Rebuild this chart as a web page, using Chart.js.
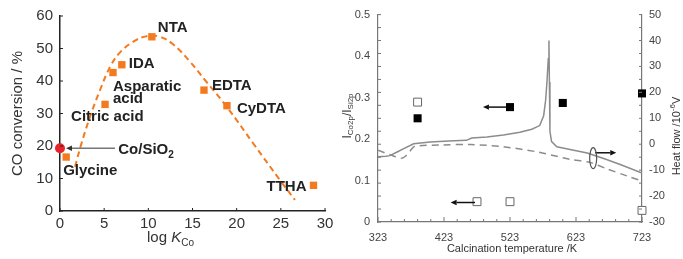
<!DOCTYPE html>
<html>
<head>
<meta charset="utf-8">
<script src="https://cdn.jsdelivr.net/npm/chart.js@4.4.1/dist/chart.umd.min.js"></script>
<style>
  body { margin: 0; background: #fff; }
  #wrap { position: relative; width: 683px; height: 259px; }
  #left { position: absolute; left: 0; top: 0; }
  #right { position: absolute; left: 340px; top: 0; }
</style>
</head>
<body>
<div id="wrap">
  <canvas id="left" width="340" height="259"></canvas>
  <canvas id="right" width="343" height="259"></canvas>
</div>
<script>
// ---- Left panel data: CO conversion vs log K(Co)
const ligands = ['Glycine', 'Citric acid', 'Asparatic acid', 'IDA', 'NTA', 'EDTA', 'CyDTA', 'TTHA'];
const logK = [0.7, 5.1, 6.0, 7.0, 10.4, 16.3, 18.9, 28.7];
const conversion = [16.6, 32.8, 42.6, 45.0, 53.6, 37.2, 32.4, 7.9];
const refLogK = [0];
const refConversion = [19.3];
const trendLogK = [1.7, 2.4, 3.4, 4.5, 5.7, 6.8, 8.3, 9.8, 11.3, 12.8, 14.7, 16.5, 18.9, 21.9, 24.9, 26.6];
const trendConversion = [13.6, 20.5, 29.0, 37.0, 44.5, 48.8, 52.1, 53.8, 53.6, 51.3, 46.0, 40.0, 32.0, 20.7, 9.5, 3.4];
const logKTicks = [0, 5, 10, 15, 20, 25, 30];
const convTicks = [0, 10, 20, 30, 40, 50, 60];

// ---- Right panel data: XPS ratio and DTA heat flow vs calcination temperature
const filledTemp = [383, 523, 603, 723];
const filledRatio = [0.25, 0.277, 0.287, 0.31];
const openTemp = [383, 473, 523, 723];
const openRatio = [0.289, 0.049, 0.049, 0.028];
const solidTemp = [323, 335, 341, 352, 362, 377, 402, 430, 457, 465, 488, 513, 538, 556, 568, 574, 577, 579, 581, 582, 582.7, 583.5, 586, 594, 614, 640, 665, 690, 723];
const solidHeat = [-4.8, -4.6, -4.4, -3.0, -1.7, 0.2, 0.9, 1.2, 1.5, 2.4, 2.8, 3.6, 4.6, 5.8, 7.2, 11, 17, 24, 33, 40, 24, 5, 1, -1.0, -2.0, -3.4, -5.5, -7.8, -11.1];
const dashTemp = [323, 341, 359, 366, 372, 379, 420, 463, 513, 563, 614, 644, 670, 700, 723];
const dashHeat = [-2.3, -4.0, -5.4, -4.3, -2.5, -0.8, -0.3, -0.1, -1.0, -2.9, -5.8, -7.0, -9.5, -12.2, -14.2];
const tempTicks = [323, 423, 523, 623, 723];
const ratioTicks = [0, 0.1, 0.2, 0.3, 0.4, 0.5];
const heatTicks = [-30, -20, -10, 0, 10, 20, 30, 40, 50];

const ORANGE = '#f47a20';
const FONT = 'Liberation Sans, Arial, sans-serif';

function pts(xs, ys) {
    return xs.map((x, i) => ({ x: x, y: ys[i] }));
}

function setTicks(values) {
    return scale => { scale.ticks = values.map(v => ({ value: v })); };
}

// draw a line of text made of parts (with sub/superscripts), centred at x,y
function richText(ctx, parts, x, y, angle) {
    ctx.save();
    ctx.translate(x, y);
    ctx.rotate(angle || 0);
    let total = 0;
    parts.forEach(p => { ctx.font = p.font; total += ctx.measureText(p.t).width; });
    let cx = -total / 2;
    ctx.textBaseline = 'middle';
    ctx.textAlign = 'left';
    parts.forEach(p => {
        ctx.font = p.font;
        ctx.fillText(p.t, cx, p.dy || 0);
        cx += ctx.measureText(p.t).width;
    });
    ctx.restore();
}

function arrow(ctx, x1, y1, x2, y2, head) {
    const ang = Math.atan2(y2 - y1, x2 - x1);
    ctx.beginPath();
    ctx.moveTo(x1, y1);
    ctx.lineTo(x2 - Math.cos(ang) * head, y2 - Math.sin(ang) * head);
    ctx.stroke();
    ctx.beginPath();
    ctx.moveTo(x2, y2);
    ctx.lineTo(x2 - head * Math.cos(ang) + head * 0.45 * Math.sin(ang), y2 - head * Math.sin(ang) - head * 0.45 * Math.cos(ang));
    ctx.lineTo(x2 - head * Math.cos(ang) - head * 0.45 * Math.sin(ang), y2 - head * Math.sin(ang) + head * 0.45 * Math.cos(ang));
    ctx.closePath();
    ctx.fill();
}

// ---- Left chart decorations
const leftDeco = {
    id: 'leftDeco',
    afterDraw(chart) {
        const { ctx, chartArea: a, scales: { x, y } } = chart;
        ctx.save();
        // inner ticks
        ctx.strokeStyle = '#222';
        ctx.lineWidth = 1;
        ctx.beginPath();
        logKTicks.forEach(v => { const px = x.getPixelForValue(v); ctx.moveTo(px, a.bottom); ctx.lineTo(px, a.bottom - 3); });
        convTicks.forEach(v => { const py = y.getPixelForValue(v); ctx.moveTo(a.left, py); ctx.lineTo(a.left + 3, py); });
        ctx.stroke();

        // ligand labels
        const place = {
            'Glycine': [-3, 14, 'left'],
            'Citric acid': [-34, 12, 'left'],
            'Asparatic acid': [0, 14, 'left'],
            'IDA': [7, -1, 'left'],
            'NTA': [6, -9, 'left'],
            'EDTA': [8, -4, 'left'],
            'CyDTA': [10, 3, 'left'],
            'TTHA': [-7, 2, 'right']
        };
        ctx.fillStyle = '#222';
        ctx.font = 'bold 15px ' + FONT;
        ctx.textBaseline = 'middle';
        ligands.forEach((name, i) => {
            const px = x.getPixelForValue(logK[i]);
            const py = y.getPixelForValue(conversion[i]);
            const p = place[name];
            ctx.textAlign = p[2];
            if (name === 'Asparatic acid') {
                ctx.fillText('Asparatic', px + p[0], py + p[1]);
                ctx.fillText('acid', px + p[0], py + p[1] + 12);
            } else {
                ctx.fillText(name, px + p[0], py + p[1]);
            }
        });

        // Co/SiO2 reference label and arrow
        const rx = x.getPixelForValue(refLogK[0]);
        const ry = y.getPixelForValue(refConversion[0]);
        ctx.strokeStyle = '#777';
        ctx.fillStyle = '#333';
        ctx.lineWidth = 1.5;
        arrow(ctx, rx + 55, ry, rx + 6, ry, 6);
        ctx.fillStyle = '#222';
        richText(ctx, [
            { t: 'Co/SiO', font: 'bold 15px ' + FONT },
            { t: '2', font: 'bold 10px ' + FONT, dy: 5 }
        ], rx + 86, ry + 2);

        // axis titles
        ctx.fillStyle = '#333';
        richText(ctx, [{ t: 'CO conversion / %', font: '15px ' + FONT }], 18, (a.top + a.bottom) / 2, -Math.PI / 2);
        richText(ctx, [
            { t: 'log ', font: '15px ' + FONT },
            { t: 'K', font: 'italic 15px ' + FONT },
            { t: 'Co', font: '10px ' + FONT, dy: 5 }
        ], (a.left + a.right) / 2 - 22, 238);
        ctx.restore();
    }
};

new Chart(document.getElementById('left'), {
    type: 'scatter',
    data: {
        datasets: [
            {
                label: 'trend',
                data: pts(trendLogK, trendConversion),
                showLine: true,
                borderColor: ORANGE,
                borderWidth: 2,
                borderDash: [6, 4],
                tension: 0.4,
                pointRadius: 0,
                clip: false
            },
            {
                label: 'ligands',
                data: pts(logK, conversion),
                pointStyle: 'rect',
                pointRadius: 5.2,
                backgroundColor: ORANGE,
                borderColor: ORANGE,
                borderWidth: 0,
                clip: false
            },
            {
                label: 'Co/SiO2',
                data: pts(refLogK, refConversion),
                pointStyle: 'circle',
                pointRadius: 5,
                backgroundColor: '#e8232a',
                borderColor: '#e8232a',
                borderWidth: 0,
                clip: false
            }
        ]
    },
    options: {
        responsive: false,
        animation: false,
        events: [],
        layout: { padding: { top: 15, right: 15, left: 0, bottom: 0 } },
        plugins: { legend: { display: false }, tooltip: { enabled: false } },
        scales: {
            x: {
                type: 'linear', min: 0, max: 30,
                afterBuildTicks: setTicks(logKTicks),
                afterFit: s => { s.height = 48; },
                grid: { display: false, drawTicks: false },
                border: { display: true, color: '#222', width: 1.5 },
                ticks: { padding: 4, color: '#333', font: { family: FONT, size: 15 } }
            },
            y: {
                type: 'linear', min: 0, max: 60,
                afterBuildTicks: setTicks(convTicks),
                afterFit: s => { s.width = 60; },
                grid: { display: false, drawTicks: false },
                border: { display: true, color: '#222', width: 1.5 },
                ticks: { padding: 7, color: '#333', font: { family: FONT, size: 15 } }
            }
        }
    },
    plugins: [leftDeco]
});

// ---- Right chart decorations
const rightDeco = {
    id: 'rightDeco',
    afterDraw(chart) {
        const { ctx, chartArea: a, scales: { x, y, y2 } } = chart;
        ctx.save();
        ctx.strokeStyle = '#777';
        ctx.lineWidth = 1;
        ctx.beginPath();
        for (let t = 323; t <= 723; t += 20) {
            const px = x.getPixelForValue(t);
            const len = (t - 323) % 100 === 0 ? 5 : 3;
            ctx.moveTo(px, a.bottom); ctx.lineTo(px, a.bottom - len);
        }
        for (let h = -30; h <= 50; h += 5) {
            const py = y2.getPixelForValue(h);
            ctx.moveTo(a.left, py); ctx.lineTo(a.left + 3, py);
            ctx.moveTo(a.right, py); ctx.lineTo(a.right - 3, py);
        }
        ctx.stroke();

        // arrows pointing to the axes
        ctx.strokeStyle = '#111';
        ctx.fillStyle = '#111';
        ctx.lineWidth = 1.5;
        arrow(ctx, x.getPixelForValue(518), y.getPixelForValue(0.277), x.getPixelForValue(482), y.getPixelForValue(0.277), 6);
        arrow(ctx, x.getPixelForValue(470), y.getPixelForValue(0.047), x.getPixelForValue(433), y.getPixelForValue(0.047), 6);
        arrow(ctx, x.getPixelForValue(652), y2.getPixelForValue(-3.3), x.getPixelForValue(684), y2.getPixelForValue(-3.3), 6);
        // ellipse around the DTA curves
        ctx.strokeStyle = '#555';
        ctx.lineWidth = 1.2;
        ctx.beginPath();
        ctx.ellipse(x.getPixelForValue(649), y2.getPixelForValue(-5.4), 3.5, 10.5, 0, 0, Math.PI * 2);
        ctx.stroke();

        // axis titles
        ctx.fillStyle = '#333';
        richText(ctx, [
            { t: 'I', font: '12px ' + FONT },
            { t: 'Co2p', font: '8px ' + FONT, dy: 3 },
            { t: '/I', font: '12px ' + FONT },
            { t: 'Si2p', font: '8px ' + FONT, dy: 3 }
        ], 8, 116, -Math.PI / 2);
        richText(ctx, [
            { t: 'Heat flow /10', font: '11px ' + FONT },
            { t: '-6', font: '8px ' + FONT, dy: -4 },
            { t: 'V', font: '11px ' + FONT }
        ], 337, 136, -Math.PI / 2);
        richText(ctx, [{ t: 'Calcination temperature /K', font: '11px ' + FONT }], 172, 249);
        ctx.restore();
    }
};

new Chart(document.getElementById('right'), {
    type: 'scatter',
    data: {
        datasets: [
            {
                label: 'DTA solid',
                data: pts(solidTemp, solidHeat),
                yAxisID: 'y2',
                showLine: true,
                borderColor: '#8c8c8c',
                borderWidth: 1.5,
                tension: 0,
                pointRadius: 0
            },
            {
                label: 'DTA dashed',
                data: pts(dashTemp, dashHeat),
                yAxisID: 'y2',
                showLine: true,
                borderColor: '#8c8c8c',
                borderWidth: 1.5,
                borderDash: [7, 5],
                tension: 0.3,
                pointRadius: 0
            },
            {
                label: 'filled',
                data: pts(filledTemp, filledRatio),
                yAxisID: 'y',
                pointStyle: 'rect',
                pointRadius: 5.7,
                backgroundColor: '#000',
                borderColor: '#000',
                borderWidth: 0,
                clip: false
            },
            {
                label: 'open',
                data: pts(openTemp, openRatio),
                yAxisID: 'y',
                pointStyle: 'rect',
                pointRadius: 5.6,
                backgroundColor: '#fff',
                borderColor: '#666',
                borderWidth: 1,
                clip: false
            }
        ]
    },
    options: {
        responsive: false,
        animation: false,
        events: [],
        layout: { padding: { top: 10, right: 0, left: 0, bottom: 0 } },
        plugins: { legend: { display: false }, tooltip: { enabled: false } },
        scales: {
            x: {
                type: 'linear', min: 323, max: 723,
                afterBuildTicks: setTicks(tempTicks),
                afterFit: s => { s.height = 37; },
                grid: { display: false, drawTicks: false },
                border: { display: true, color: '#777', width: 1.2 },
                ticks: { padding: 9, color: '#444', font: { family: FONT, size: 11 } }
            },
            y: {
                type: 'linear', position: 'left', min: 0, max: 0.5,
                afterBuildTicks: setTicks(ratioTicks),
                afterFit: s => { s.width = 38; },
                grid: { display: false, drawTicks: false },
                border: { display: true, color: '#777', width: 1.2 },
                ticks: { padding: 8, color: '#444', font: { family: FONT, size: 11 } }
            },
            y2: {
                type: 'linear', position: 'right', min: -30, max: 50,
                afterBuildTicks: setTicks(heatTicks),
                afterFit: s => { s.width = 41; },
                grid: { display: false, drawTicks: false },
                border: { display: true, color: '#777', width: 1.2 },
                ticks: { padding: 7, color: '#444', font: { family: FONT, size: 11 } }
            }
        }
    },
    plugins: [rightDeco]
});
</script>
</body>
</html>
